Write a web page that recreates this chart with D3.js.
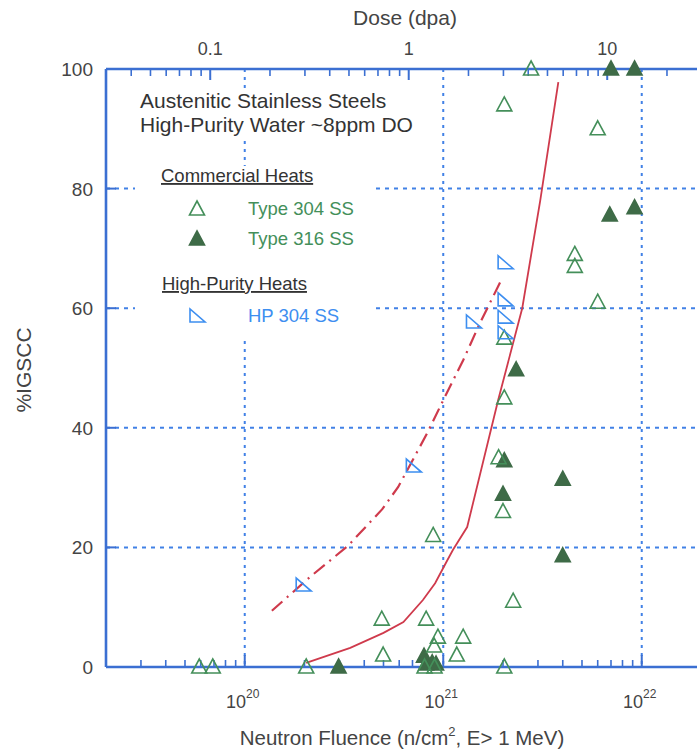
<!DOCTYPE html>
<html>
<head>
<meta charset="utf-8">
<script src="https://cdn.jsdelivr.net/npm/d3@7"></script>
<style>
  body { margin: 0; background: #fff; }
  text { font-family: "Liberation Sans", Arial, sans-serif; }
</style>
</head>
<body>
<svg width="697" height="751"></svg>
<script>
// fluence in n/cm2, value in %IGSCC
const type304 = [
  [2.77e21, 100], [2.03e21, 94], [6.0e21, 90], [4.6e21, 69], [4.6e21, 67],
  [6.0e21, 61], [2.03e21, 55], [2.03e21, 45], [1.9e21, 35], [2.0e21, 26],
  [8.9e20, 22], [2.25e21, 11], [4.9e20, 8], [8.2e20, 8], [9.4e20, 5],
  [9.0e20, 3.5], [1.26e21, 5], [1.17e21, 2], [4.98e20, 2], [2.03e21, 0],
  [8.05e20, 0], [9.04e20, 0], [5.9e19, 0], [6.9e19, 0], [2.04e20, 0]
];
const type316 = [
  [7.0e21, 100], [9.2e21, 100], [6.9e21, 75.6], [9.2e21, 76.8], [2.33e21, 49.7],
  [2.03e21, 34.5], [4.0e21, 31.4], [2.0e21, 28.9], [4.0e21, 18.6], [2.97e20, 0],
  [8.0e20, 1.8], [8.2e20, 0.5], [8.8e20, 0.7], [9.2e20, 0.5]
];
const hp304 = [
  [1.97e20, 13.7], [7.07e20, 33.6], [1.42e21, 57.7], [2.05e21, 67.6],
  [2.05e21, 61.4], [2.05e21, 58.5], [2.05e21, 55.9]
];
const trendCommercial = [
  [2.04e20, 0.7], [3.4e20, 3.2], [5.0e20, 5.7], [6.3e20, 7.5], [7.9e20, 11.2],
  [9.1e20, 14.0], [1.05e21, 17.9], [1.12e21, 19.6], [1.32e21, 23.4],
  [1.89e21, 44.6], [2.5e21, 60], [3.08e21, 78], [3.8e21, 97.8]
];
const trendHP = [
  [1.37e20, 9.4], [2.14e20, 15.1], [3.32e20, 20.3], [4.93e20, 26.4], [5.93e20, 30.1],
  [8.3e20, 39.1], [1.02e21, 45.2], [1.26e21, 51.3], [1.53e21, 57.5], [1.94e21, 64.4]
];
const fluenceTicks = [1e20, 1e21, 1e22];
const fluenceExp = ['20', '21', '22'];
const doseTicks = [0.1, 1, 10];
const yTicks = [0, 20, 40, 60, 80, 100];
const dpaPerFluence = 1 / 6.7e20;

const blue = '#3b6fd2', grid = '#4181e6', green = '#448f5a', dkGreen = '#3e6b47',
      hpBlue = '#3d8ef0', red = '#cf3a4c', gray = '#444';

const svg = d3.select('svg');
const plotL = 106, plotR = 701.5, plotT = 69, plotB = 667;

const x = d3.scaleLog().domain([2e19, 2e22]).range([plotL, plotR]);
const xDose = d3.scaleLog()
  .domain(x.domain().map(d => d * dpaPerFluence)).range([plotL, plotR]);
const y = d3.scaleLinear().domain([0, 100]).range([plotB, plotT]);

// grid
const gridG = svg.append('g')
  .attr('stroke', grid).attr('stroke-width', 2).attr('fill', 'none');
gridG.selectAll('.gx').data(fluenceTicks).enter().append('line')
  .attr('x1', d => x(d)).attr('x2', d => x(d))
  .attr('y1', plotT).attr('y2', plotB)
  .attr('stroke-dasharray', '3,5');
gridG.selectAll('.gy').data(yTicks.slice(1, -1)).enter().append('line')
  .attr('x1', plotL).attr('x2', plotR)
  .attr('y1', d => y(d)).attr('y2', d => y(d))
  .attr('stroke-dasharray', '4,5');

// white panels behind the legend text
svg.append('rect').attr('x', 135).attr('y', 88).attr('width', 290).attr('height', 52).attr('fill', '#fff');
svg.append('rect').attr('x', 135).attr('y', 166).attr('width', 238).attr('height', 175).attr('fill', '#fff');

// axes
const minor = (lo, hi) => {
  const out = [];
  for (let e = lo; e <= hi; e++) for (let m = 2; m <= 9; m++) out.push(m * Math.pow(10, e));
  return out;
};
const bottomMinor = minor(19, 21).filter(d => d > 2.05e19 && d < 2e22);
const topMinor = minor(-2, 1).filter(d => d > xDose.domain()[0] * 1.02 && d < xDose.domain()[1]);

const axisG = svg.append('g').attr('stroke', blue).attr('fill', 'none');
axisG.selectAll('.bm').data(bottomMinor).enter().append('line')
  .attr('x1', d => x(d)).attr('x2', d => x(d)).attr('y1', plotB).attr('y2', plotB - 7)
  .attr('stroke-width', 1.6);
axisG.selectAll('.bM').data(fluenceTicks).enter().append('line')
  .attr('x1', d => x(d)).attr('x2', d => x(d)).attr('y1', plotB).attr('y2', plotB - 12)
  .attr('stroke-width', 2);
axisG.selectAll('.tm').data(topMinor).enter().append('line')
  .attr('x1', d => xDose(d)).attr('x2', d => xDose(d)).attr('y1', plotT).attr('y2', plotT + 7)
  .attr('stroke-width', 1.6);
axisG.selectAll('.tM').data(doseTicks).enter().append('line')
  .attr('x1', d => xDose(d)).attr('x2', d => xDose(d)).attr('y1', plotT).attr('y2', plotT + 11)
  .attr('stroke-width', 2);
axisG.selectAll('.yt').data(yTicks).enter().append('line')
  .attr('x1', plotL).attr('x2', plotL + 10).attr('y1', d => y(d)).attr('y2', d => y(d))
  .attr('stroke-width', 2);
axisG.append('line').attr('x1', plotL).attr('x2', plotR).attr('y1', plotT).attr('y2', plotT).attr('stroke-width', 2.6);
axisG.append('line').attr('x1', plotL).attr('x2', plotR).attr('y1', plotB).attr('y2', plotB).attr('stroke-width', 2.6);
axisG.append('line').attr('x1', plotL).attr('x2', plotL).attr('y1', plotT).attr('y2', plotB).attr('stroke-width', 2.6);

// tick labels
svg.selectAll('.ylab').data(yTicks).enter().append('text')
  .attr('x', 93).attr('y', d => y(d) + 7)
  .attr('text-anchor', 'end').attr('font-size', 19).attr('fill', gray)
  .text(d => d);
const xl = svg.selectAll('.xlab').data(fluenceTicks).enter().append('text')
  .attr('x', d => x(d) - 2).attr('y', 708)
  .attr('text-anchor', 'middle').attr('font-size', 18).attr('fill', gray);
xl.append('tspan').text('10');
xl.append('tspan').attr('font-size', 12).attr('dy', -10).text((d, i) => fluenceExp[i]);
svg.selectAll('.dlab').data(doseTicks).enter().append('text')
  .attr('x', d => xDose(d)).attr('y', 55)
  .attr('text-anchor', 'middle').attr('font-size', 18).attr('fill', gray)
  .text(d => d);

// axis titles
svg.append('text').attr('x', 405).attr('y', 25).attr('text-anchor', 'middle')
  .attr('font-size', 21).attr('fill', gray).text('Dose (dpa)');
const xt = svg.append('text').attr('x', 402).attr('y', 745).attr('text-anchor', 'middle')
  .attr('font-size', 20.5).attr('fill', gray);
xt.append('tspan').text('Neutron Fluence (n/cm');
xt.append('tspan').attr('font-size', 13).attr('dy', -9).text('2');
xt.append('tspan').attr('dy', 9).text(', E> 1 MeV)');
svg.append('text').attr('transform', 'translate(31,370) rotate(-90)')
  .attr('text-anchor', 'middle').attr('font-size', 21).attr('fill', gray).text('%IGSCC');

// trend lines
const line = d3.line().x(d => x(d[0])).y(d => y(d[1]));
svg.append('path').datum(trendCommercial).attr('d', line)
  .attr('fill', 'none').attr('stroke', red).attr('stroke-width', 1.8);
svg.append('path').datum(trendHP).attr('d', line)
  .attr('fill', 'none').attr('stroke', red).attr('stroke-width', 2.2)
  .attr('stroke-dasharray', '14,6,2,6');

// markers
const tri = 'M0,-8L7.5,6L-7.5,6Z';
const rtri = 'M-7,-7L-7,6L8,6Z';
const drawMarks = (data, path, fill, stroke) => {
  svg.append('g').selectAll('path').data(data).enter().append('path')
    .attr('d', path)
    .attr('transform', d => `translate(${x(d[0])},${y(d[1])})`)
    .attr('fill', fill).attr('stroke', stroke).attr('stroke-width', 1.6);
};
drawMarks(type316, tri, dkGreen, dkGreen);
drawMarks(type304, tri, 'none', green);
drawMarks(hp304, rtri, 'none', hpBlue);

// legend
const lg = svg.append('g');
lg.append('text').attr('x', 140).attr('y', 108).attr('font-size', 21).attr('fill', '#333')
  .text('Austenitic Stainless Steels');
lg.append('text').attr('x', 140).attr('y', 132).attr('font-size', 21).attr('fill', '#333')
  .text('High-Purity Water ~8ppm DO');
lg.append('text').attr('x', 161).attr('y', 182).attr('font-size', 18.5).attr('fill', '#333')
  .attr('text-decoration', 'underline').text('Commercial Heats');
lg.append('text').attr('x', 162).attr('y', 290).attr('font-size', 18.5).attr('fill', '#333')
  .attr('text-decoration', 'underline').text('High-Purity Heats');
const legendItems = [
  { label: 'Type 304 SS', path: tri, fill: 'none', stroke: green, color: green, y: 215 },
  { label: 'Type 316 SS', path: tri, fill: dkGreen, stroke: dkGreen, color: green, y: 245 },
  { label: 'HP 304 SS', path: rtri, fill: 'none', stroke: hpBlue, color: hpBlue, y: 322 }
];
legendItems.forEach(it => {
  lg.append('path').attr('d', it.path).attr('transform', `translate(197,${it.y - 6})`)
    .attr('fill', it.fill).attr('stroke', it.stroke).attr('stroke-width', 1.6);
  lg.append('text').attr('x', 248).attr('y', it.y).attr('font-size', 18.5)
    .attr('fill', it.color).text(it.label);
});
</script>
</body>
</html>
